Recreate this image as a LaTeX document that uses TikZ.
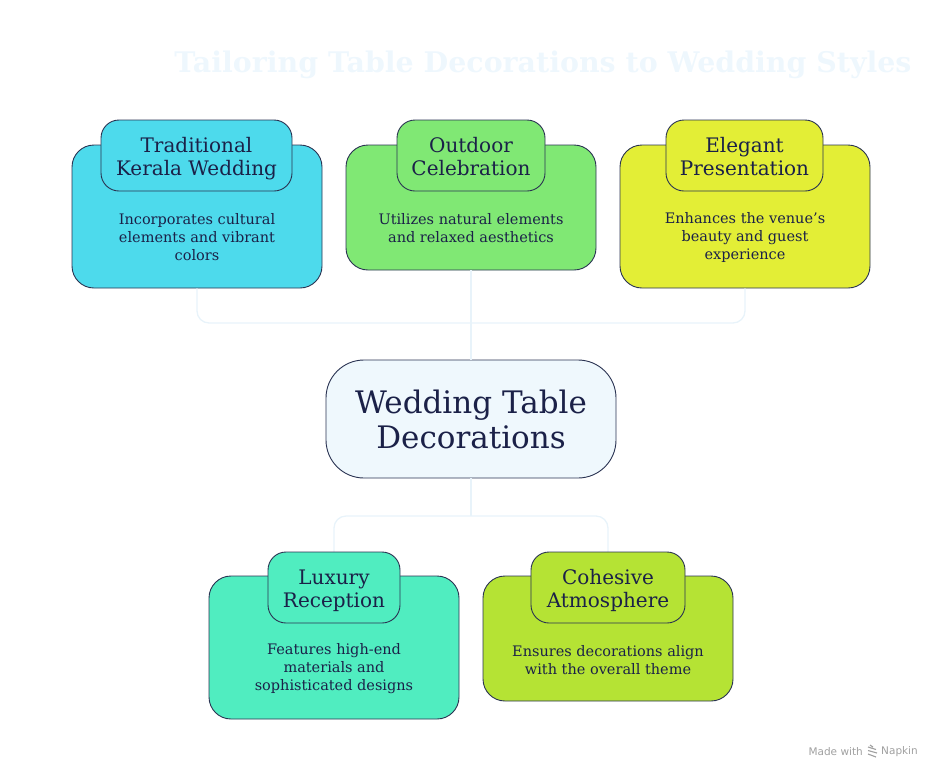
\documentclass[tikz,border=0pt]{standalone}
\usepackage{fontspec}
\setmainfont{DejaVu Serif}
\newfontfamily\footfont{DejaVu Sans}
\definecolor{navy}{HTML}{1B2148}
\definecolor{edge}{HTML}{2A3352}
\definecolor{conn}{HTML}{E8F3FA}
\definecolor{ttl}{HTML}{EEF7FD}
\definecolor{cA}{HTML}{4DDAEC}
\definecolor{cB}{HTML}{80E874}
\definecolor{cC}{HTML}{E3EE36}
\definecolor{cD}{HTML}{50EDC0}
\definecolor{cE}{HTML}{B5E334}
\definecolor{cM}{HTML}{EFF8FD}
\definecolor{foot}{HTML}{A0A0A0}
\tikzset{
  outerbox/.style={draw=edge, line width=0.9pt, rounded corners=22pt, minimum width=250pt, inner sep=0pt},
  headbox/.style={draw=edge, line width=0.9pt, rounded corners=18pt, minimum height=71pt, inner sep=0pt},
  headtext/.style={text=navy, font=\fontsize{20}{23}\selectfont, align=center, inner sep=0pt},
  bodytext/.style={text=navy, font=\fontsize{14.5}{18}\selectfont, align=center, inner sep=0pt},
  connline/.style={draw=conn, line width=1.3pt, rounded corners=12pt},
}
\begin{document}
\begin{tikzpicture}[x=1pt,y=-1pt]
\useasboundingbox (0,0) rectangle (942,780);
% title
\node[text=ttl, font=\bfseries\fontsize{28}{32}\selectfont, inner sep=0pt] (title) at (543,65) {\resizebox{737pt}{!}{Tailoring Table Decorations to Wedding Styles}};
% junctions
\coordinate (j1) at (471,323);
\coordinate (j2) at (471,516);
% boxes (outer)
\node[outerbox, fill=cA, minimum height=143pt] (b1) at (197,216.5) {};
\node[outerbox, fill=cB, minimum height=125pt] (b2) at (471,207.5) {};
\node[outerbox, fill=cC, minimum height=143pt] (b3) at (745,216.5) {};
\node[outerbox, fill=cD, minimum height=143pt] (b4) at (334,647.5) {};
\node[outerbox, fill=cE, minimum height=125pt] (b5) at (608,638.5) {};
% center
\node[draw=edge, line width=0.9pt, fill=cM, rounded corners=38pt, minimum width=290pt, minimum height=118pt, inner sep=0pt, text=navy, font=\fontsize{31}{35}\selectfont, align=center] (c) at (471,419) {Wedding Table\\Decorations};
% connectors
\draw[connline] (b1.south) -- (b1.south |- j1) -- (b3.south |- j1) -- (b3.south);
\draw[connline] (b2.south) -- (c.north);
\draw[connline] (c.south) -- (j2);
\draw[connline] (b4.north) -- (b4.north |- j2) -- (b5.north |- j2) -- (b5.north);
% headers
\node[headbox, fill=cA, minimum width=191pt] (h1) at (196.5,155.5) {};
\node[headbox, fill=cB, minimum width=148pt] (h2) at (471,155.5) {};
\node[headbox, fill=cC, minimum width=157pt] (h3) at (744.5,155.5) {};
\node[headbox, fill=cD, minimum width=132pt] (h4) at (334,587.5) {};
\node[headbox, fill=cE, minimum width=154pt] (h5) at (608,587.5) {};
\node[headtext] (ht1) at (196.5,159) {\strut Traditional\\Kerala Wedding\strut};
\node[headtext] (ht2) at (471,159) {\strut Outdoor\\Celebration\strut};
\node[headtext] (ht3) at (744.5,159) {\strut Elegant\\Presentation\strut};
\node[headtext] (ht4) at (334,591) {\strut Luxury\\Reception\strut};
\node[headtext] (ht5) at (608,591) {\strut Cohesive\\Atmosphere\strut};
% body texts
\node[bodytext] (t1) at (197,237) {Incorporates cultural\\elements and vibrant\\colors};
\node[bodytext] (t2) at (471,228) {Utilizes natural elements\\and relaxed aesthetics};
\node[bodytext] (t3) at (745,237) {Enhances the venue's\\beauty and guest\\experience};
\node[bodytext] (t4) at (334,669) {Features high-end\\materials and\\sophisticated designs};
\node[bodytext] (t5) at (608,660) {Ensures decorations align\\with the overall theme};
% footer
\node[text=foot, font=\footfont\fontsize{10.5}{12}\selectfont, anchor=east, inner sep=0pt] (fm) at (863,752) {Made with};
\node[text=foot, font=\footfont\fontsize{10.5}{12}\selectfont, anchor=west, inner sep=0pt] (fn) at (881,752) {Napkin};
\draw[foot, line width=1.1pt] (868,747) -- (876,749.5) (868,750.5) -- (877,753) (868,754) -- (876,757) (870,745) -- (873,747);
\end{tikzpicture}
\end{document}
